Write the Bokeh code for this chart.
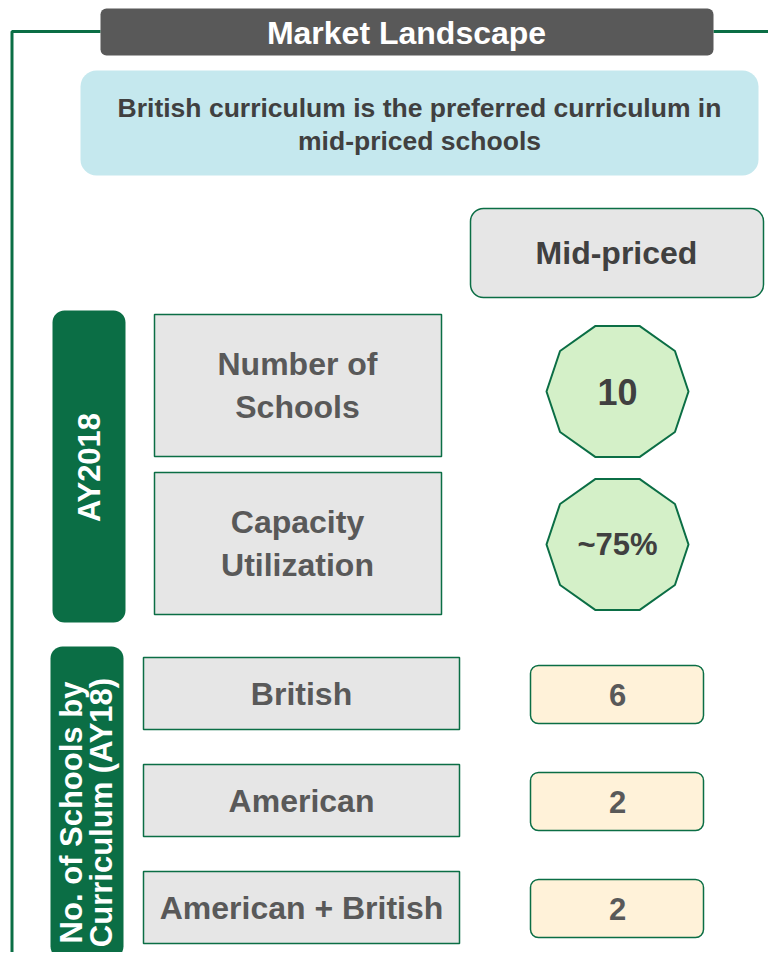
import numpy as np
from bokeh.plotting import figure
from bokeh.models import Range1d
from bokeh.embed import file_html
from bokeh.resources import INLINE
from bokeh.core.properties import value

# ---------------- data ----------------
title = "Market Landscape"
headline = ["British curriculum is the preferred curriculum in", "mid-priced schools"]
segment = "Mid-priced"
period = "AY2018"
kpi_labels = ["Number of\nSchools", "Capacity\nUtilization"]
kpi_values = ["10", "~75%"]
curr_group = "No. of Schools by\nCurriculum (AY18)"
curricula = ["British", "American", "American + British"]
curr_counts = [6, 2, 2]

# ---------------- style ----------------
GREEN = "#0b6e45"
DARK = "#595959"
TXT = "#404040"
GREYBOX = "#e6e6e6"
BLUE = "#c5e8ee"
LGREEN = "#d4f0c8"
CREAM = "#fff2d9"
FONT = value("Liberation Sans")

W, H = 768, 952
p = figure(width=W, height=H, output_backend="svg", toolbar_location=None,
           x_range=Range1d(0, W), y_range=Range1d(H, 0),
           min_border=0, outline_line_color=None, background_fill_color="white")
p.axis.visible = False
p.grid.visible = False

# frame line
p.multi_line(xs=[[100, 11.5, 11.5], [713, 790]], ys=[[31, 31, 970], [31, 31]],
             line_color=GREEN, line_width=3)

# title
p.quad(left=[100], right=[713], top=[8], bottom=[55], fill_color="#595959",
       line_color=None, border_radius=6)
p.text(x=[406], y=[32], text=[title], text_font=FONT, text_font_style="bold",
       text_font_size="32px", text_color="white", text_align="center", text_baseline="middle")

# headline
p.quad(left=[80], right=[758], top=[70], bottom=[175], fill_color=BLUE,
       line_color=None, border_radius=16)
p.text(x=[419] * len(headline), y=[107 + 33 * i for i in range(len(headline))], text=headline,
       text_font=FONT, text_font_style="bold", text_font_size="26.5px", text_color=TXT,
       text_align="center", text_baseline="middle")

# segment header
p.quad(left=[470], right=[763], top=[208], bottom=[297], fill_color=GREYBOX,
       line_color=GREEN, line_width=1.5, border_radius=13)
p.text(x=[616], y=[252], text=[segment], text_font=FONT, text_font_style="bold",
       text_font_size="32px", text_color=TXT, text_align="center", text_baseline="middle")

# AY2018 vertical tag
p.quad(left=[52], right=[125], top=[310], bottom=[622], fill_color=GREEN,
       line_color=None, border_radius=12)
p.text(x=[89], y=[467], text=[period], angle=np.pi / 2, text_font=FONT, text_font_style="bold",
       text_font_size="31px", text_color="white", text_align="center", text_baseline="middle")

# KPI rows
kpi_top = [314, 472]
kpi_bot = [456, 614]
kpi_cy = [(a + b) / 2 for a, b in zip(kpi_top, kpi_bot)]
p.quad(left=[154] * 2, right=[441] * 2, top=kpi_top, bottom=kpi_bot, fill_color=GREYBOX,
       line_color=GREEN, line_width=1.5)
p.text(x=[297] * 2, y=kpi_cy, text=kpi_labels, text_font=FONT, text_font_style="bold",
       text_font_size="32px", text_color=DARK, text_align="center", text_baseline="middle",
       text_line_height=1.2)

# decagons
ang = np.linspace(0, 2 * np.pi, 11)[:-1]
dec_cy = [391, 544]
p.patches(xs=[list(617 + 71 * np.cos(ang)) for _ in dec_cy],
          ys=[list(c + 69 * np.sin(ang)) for c in dec_cy],
          fill_color=LGREEN, line_color=GREEN, line_width=2)
for val, cy, fs in zip(kpi_values, dec_cy, ["36px", "31px"]):
    p.text(x=[617], y=[cy], text=[val], text_font=FONT, text_font_style="bold",
           text_font_size=fs, text_color=TXT, text_align="center", text_baseline="middle")

# curriculum tag
p.quad(left=[50], right=[123], top=[646], bottom=[958], fill_color=GREEN,
       line_color=None, border_radius=12)
p.text(x=[86], y=[812], text=[curr_group], angle=np.pi / 2, text_font=FONT, text_font_style="bold",
       text_font_size="31px", text_color="white", text_align="center", text_baseline="middle",
       text_line_height=0.85)

# curriculum rows
n = len(curricula)
row_cy = [693 + 107 * i for i in range(n)]
p.quad(left=[143] * n, right=[459] * n, top=[c - 36 for c in row_cy], bottom=[c + 36 for c in row_cy],
       fill_color=GREYBOX, line_color=GREEN, line_width=1.5)
p.text(x=[301] * n, y=row_cy, text=curricula, text_font=FONT, text_font_style="bold",
       text_font_size="32px", text_color=DARK, text_align="center", text_baseline="middle")

val_cy = [694 + 107 * i for i in range(n)]
p.quad(left=[530] * n, right=[703] * n, top=[c - 29 for c in val_cy], bottom=[c + 29 for c in val_cy],
       fill_color=CREAM, line_color=GREEN, line_width=1.5, border_radius=8)
p.text(x=[617] * n, y=val_cy, text=[str(v) for v in curr_counts], text_font=FONT,
       text_font_style="bold", text_font_size="31px", text_color=DARK,
       text_align="center", text_baseline="middle")

open("out.html", "w").write(file_html(p, INLINE))
